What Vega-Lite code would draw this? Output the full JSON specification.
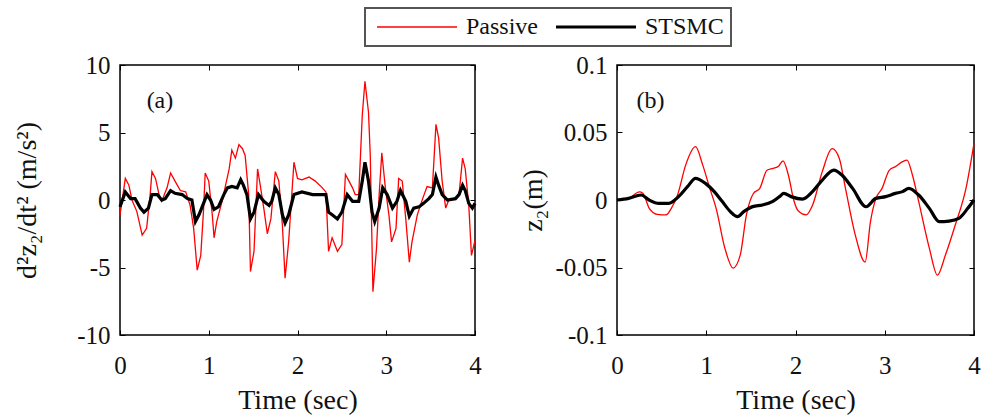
{
"$schema": "https://vega.github.io/schema/vega-lite/v6.json",
"background": "white",
"padding": {"left": 12, "top": 7, "right": 1, "bottom": 0},
"config": {
  "font": "Liberation Serif",
  "view": {"stroke": "black", "strokeWidth": 1.5},
  "axis": {"labelFont": "Liberation Serif", "titleFont": "Liberation Serif", "labelFontSize": 25, "titleFontSize": 28, "titleFontWeight": "normal", "grid": false, "domain": false, "tickColor": "black", "tickSize": -5, "labelColor": "#111", "titleColor": "#111", "labelPadding": 15},
  "legend": {"labelFont": "Liberation Serif", "strokeWidth": 2}
},
"datasets": {
 "accel": [
  {"t":0,"v":-1.1,"s":"Passive"},{"t":0.06,"v":1.6,"s":"Passive"},{"t":0.10,"v":1.1,"s":"Passive"},{"t":0.135,"v":0,"s":"Passive"},{"t":0.19,"v":-0.86,"s":"Passive"},{"t":0.25,"v":-2.6,"s":"Passive"},{"t":0.30,"v":-2.1,"s":"Passive"},{"t":0.34,"v":0.4,"s":"Passive"},{"t":0.36,"v":2.1,"s":"Passive"},{"t":0.40,"v":1.6,"s":"Passive"},{"t":0.44,"v":0.4,"s":"Passive"},{"t":0.47,"v":-0.1,"s":"Passive"},{"t":0.53,"v":0.9,"s":"Passive"},{"t":0.57,"v":2.0,"s":"Passive"},{"t":0.62,"v":1.4,"s":"Passive"},{"t":0.68,"v":0.7,"s":"Passive"},{"t":0.74,"v":0.6,"s":"Passive"},{"t":0.79,"v":-0.4,"s":"Passive"},{"t":0.83,"v":-2.1,"s":"Passive"},{"t":0.87,"v":-5.2,"s":"Passive"},{"t":0.91,"v":-4.1,"s":"Passive"},{"t":0.94,"v":-0.9,"s":"Passive"},{"t":0.96,"v":2.0,"s":"Passive"},{"t":1.00,"v":1.4,"s":"Passive"},{"t":1.04,"v":-1.1,"s":"Passive"},{"t":1.06,"v":-2.8,"s":"Passive"},{"t":1.09,"v":-1.6,"s":"Passive"},{"t":1.15,"v":-0.1,"s":"Passive"},{"t":1.19,"v":1.1,"s":"Passive"},{"t":1.23,"v":2.3,"s":"Passive"},{"t":1.26,"v":3.7,"s":"Passive"},{"t":1.30,"v":3.1,"s":"Passive"},{"t":1.34,"v":4.1,"s":"Passive"},{"t":1.38,"v":3.8,"s":"Passive"},{"t":1.41,"v":3.3,"s":"Passive"},{"t":1.45,"v":0.4,"s":"Passive"},{"t":1.47,"v":-5.3,"s":"Passive"},{"t":1.51,"v":-3.8,"s":"Passive"},{"t":1.55,"v":2.3,"s":"Passive"},{"t":1.58,"v":1.1,"s":"Passive"},{"t":1.62,"v":-0.6,"s":"Passive"},{"t":1.66,"v":-2.5,"s":"Passive"},{"t":1.70,"v":-1.4,"s":"Passive"},{"t":1.75,"v":2.1,"s":"Passive"},{"t":1.79,"v":1.4,"s":"Passive"},{"t":1.83,"v":-1.9,"s":"Passive"},{"t":1.86,"v":-5.8,"s":"Passive"},{"t":1.90,"v":-3.1,"s":"Passive"},{"t":1.96,"v":2.8,"s":"Passive"},{"t":2.00,"v":1.6,"s":"Passive"},{"t":2.05,"v":1.5,"s":"Passive"},{"t":2.13,"v":1.7,"s":"Passive"},{"t":2.20,"v":1.4,"s":"Passive"},{"t":2.28,"v":0.9,"s":"Passive"},{"t":2.32,"v":0.6,"s":"Passive"},{"t":2.35,"v":-3.8,"s":"Passive"},{"t":2.39,"v":-2.8,"s":"Passive"},{"t":2.45,"v":-3.8,"s":"Passive"},{"t":2.50,"v":-3.3,"s":"Passive"},{"t":2.54,"v":1.9,"s":"Passive"},{"t":2.58,"v":1.4,"s":"Passive"},{"t":2.62,"v":0.9,"s":"Passive"},{"t":2.65,"v":0.4,"s":"Passive"},{"t":2.69,"v":0.4,"s":"Passive"},{"t":2.73,"v":6.3,"s":"Passive"},{"t":2.76,"v":8.8,"s":"Passive"},{"t":2.80,"v":6.5,"s":"Passive"},{"t":2.82,"v":3.3,"s":"Passive"},{"t":2.85,"v":-6.8,"s":"Passive"},{"t":2.89,"v":-3.6,"s":"Passive"},{"t":2.92,"v":0.4,"s":"Passive"},{"t":2.95,"v":3.5,"s":"Passive"},{"t":2.99,"v":0.9,"s":"Passive"},{"t":3.03,"v":-1.1,"s":"Passive"},{"t":3.06,"v":-3.1,"s":"Passive"},{"t":3.11,"v":-2.1,"s":"Passive"},{"t":3.14,"v":1.6,"s":"Passive"},{"t":3.18,"v":1.4,"s":"Passive"},{"t":3.22,"v":-1.4,"s":"Passive"},{"t":3.26,"v":-4.6,"s":"Passive"},{"t":3.29,"v":-3.1,"s":"Passive"},{"t":3.35,"v":-1.1,"s":"Passive"},{"t":3.41,"v":0.1,"s":"Passive"},{"t":3.46,"v":1.0,"s":"Passive"},{"t":3.52,"v":0.9,"s":"Passive"},{"t":3.56,"v":5.6,"s":"Passive"},{"t":3.59,"v":4.6,"s":"Passive"},{"t":3.63,"v":1.4,"s":"Passive"},{"t":3.67,"v":-0.6,"s":"Passive"},{"t":3.71,"v":0.1,"s":"Passive"},{"t":3.78,"v":0.1,"s":"Passive"},{"t":3.82,"v":0.4,"s":"Passive"},{"t":3.86,"v":3.1,"s":"Passive"},{"t":3.89,"v":2.3,"s":"Passive"},{"t":3.93,"v":-0.4,"s":"Passive"},{"t":3.96,"v":-4.1,"s":"Passive"},{"t":4.00,"v":-3.0,"s":"Passive"},
  {"t":0,"v":-0.5,"s":"STSMC"},{"t":0.06,"v":0.6,"s":"STSMC"},{"t":0.12,"v":0.1,"s":"STSMC"},{"t":0.17,"v":0.1,"s":"STSMC"},{"t":0.23,"v":-0.6,"s":"STSMC"},{"t":0.27,"v":-0.9,"s":"STSMC"},{"t":0.32,"v":-0.6,"s":"STSMC"},{"t":0.36,"v":0.4,"s":"STSMC"},{"t":0.42,"v":0.4,"s":"STSMC"},{"t":0.47,"v":0,"s":"STSMC"},{"t":0.51,"v":0.1,"s":"STSMC"},{"t":0.57,"v":0.7,"s":"STSMC"},{"t":0.62,"v":0.5,"s":"STSMC"},{"t":0.70,"v":0.4,"s":"STSMC"},{"t":0.76,"v":0.1,"s":"STSMC"},{"t":0.81,"v":0,"s":"STSMC"},{"t":0.85,"v":-1.6,"s":"STSMC"},{"t":0.89,"v":-1.1,"s":"STSMC"},{"t":0.92,"v":-0.6,"s":"STSMC"},{"t":0.98,"v":0.4,"s":"STSMC"},{"t":1.02,"v":0,"s":"STSMC"},{"t":1.06,"v":-0.7,"s":"STSMC"},{"t":1.11,"v":-0.5,"s":"STSMC"},{"t":1.17,"v":0.4,"s":"STSMC"},{"t":1.21,"v":0.9,"s":"STSMC"},{"t":1.26,"v":1.0,"s":"STSMC"},{"t":1.32,"v":0.9,"s":"STSMC"},{"t":1.36,"v":1.5,"s":"STSMC"},{"t":1.39,"v":1.1,"s":"STSMC"},{"t":1.43,"v":0.4,"s":"STSMC"},{"t":1.47,"v":-1.4,"s":"STSMC"},{"t":1.51,"v":-0.9,"s":"STSMC"},{"t":1.56,"v":0.4,"s":"STSMC"},{"t":1.62,"v":-0.1,"s":"STSMC"},{"t":1.68,"v":-0.4,"s":"STSMC"},{"t":1.71,"v":-0.1,"s":"STSMC"},{"t":1.75,"v":0.9,"s":"STSMC"},{"t":1.79,"v":0.4,"s":"STSMC"},{"t":1.83,"v":-1.1,"s":"STSMC"},{"t":1.86,"v":-1.7,"s":"STSMC"},{"t":1.90,"v":-1.1,"s":"STSMC"},{"t":1.96,"v":0.4,"s":"STSMC"},{"t":2.05,"v":0.6,"s":"STSMC"},{"t":2.17,"v":0.4,"s":"STSMC"},{"t":2.32,"v":0.4,"s":"STSMC"},{"t":2.35,"v":-0.9,"s":"STSMC"},{"t":2.39,"v":-1.1,"s":"STSMC"},{"t":2.45,"v":-1.4,"s":"STSMC"},{"t":2.50,"v":-0.9,"s":"STSMC"},{"t":2.56,"v":0.4,"s":"STSMC"},{"t":2.62,"v":-0.1,"s":"STSMC"},{"t":2.69,"v":-0.1,"s":"STSMC"},{"t":2.73,"v":1.4,"s":"STSMC"},{"t":2.76,"v":2.8,"s":"STSMC"},{"t":2.80,"v":1.4,"s":"STSMC"},{"t":2.84,"v":-0.9,"s":"STSMC"},{"t":2.87,"v":-1.6,"s":"STSMC"},{"t":2.92,"v":-0.6,"s":"STSMC"},{"t":2.96,"v":0.9,"s":"STSMC"},{"t":3.01,"v":0.4,"s":"STSMC"},{"t":3.07,"v":-0.6,"s":"STSMC"},{"t":3.12,"v":-0.1,"s":"STSMC"},{"t":3.16,"v":0.7,"s":"STSMC"},{"t":3.22,"v":-0.1,"s":"STSMC"},{"t":3.26,"v":-1.2,"s":"STSMC"},{"t":3.31,"v":-0.6,"s":"STSMC"},{"t":3.37,"v":-0.5,"s":"STSMC"},{"t":3.42,"v":-0.25,"s":"STSMC"},{"t":3.48,"v":0.1,"s":"STSMC"},{"t":3.52,"v":0.4,"s":"STSMC"},{"t":3.56,"v":1.7,"s":"STSMC"},{"t":3.59,"v":1.1,"s":"STSMC"},{"t":3.63,"v":0.4,"s":"STSMC"},{"t":3.69,"v":0,"s":"STSMC"},{"t":3.78,"v":0.1,"s":"STSMC"},{"t":3.82,"v":0.4,"s":"STSMC"},{"t":3.86,"v":1.1,"s":"STSMC"},{"t":3.89,"v":0.7,"s":"STSMC"},{"t":3.93,"v":-0.25,"s":"STSMC"},{"t":3.97,"v":-0.6,"s":"STSMC"},{"t":4.00,"v":-0.25,"s":"STSMC"}
 ],
 "disp": [
  {"t":0,"v":0,"s":"Passive"},{"t":0.13,"v":0.001,"s":"Passive"},{"t":0.25,"v":0.006,"s":"Passive"},{"t":0.29,"v":0.005,"s":"Passive"},{"t":0.36,"v":-0.006,"s":"Passive"},{"t":0.45,"v":-0.0106,"s":"Passive"},{"t":0.55,"v":-0.011,"s":"Passive"},{"t":0.61,"v":-0.006,"s":"Passive"},{"t":0.68,"v":0.004,"s":"Passive"},{"t":0.77,"v":0.026,"s":"Passive"},{"t":0.88,"v":0.0395,"s":"Passive"},{"t":0.96,"v":0.026,"s":"Passive"},{"t":1.04,"v":0.0086,"s":"Passive"},{"t":1.11,"v":-0.006,"s":"Passive"},{"t":1.21,"v":-0.036,"s":"Passive"},{"t":1.30,"v":-0.0504,"s":"Passive"},{"t":1.38,"v":-0.041,"s":"Passive"},{"t":1.45,"v":-0.011,"s":"Passive"},{"t":1.53,"v":0.005,"s":"Passive"},{"t":1.60,"v":0.0086,"s":"Passive"},{"t":1.68,"v":0.022,"s":"Passive"},{"t":1.75,"v":0.0235,"s":"Passive"},{"t":1.81,"v":0.025,"s":"Passive"},{"t":1.86,"v":0.029,"s":"Passive"},{"t":1.92,"v":0.0185,"s":"Passive"},{"t":1.98,"v":0.0,"s":"Passive"},{"t":2.03,"v":-0.008,"s":"Passive"},{"t":2.12,"v":-0.011,"s":"Passive"},{"t":2.19,"v":-0.004,"s":"Passive"},{"t":2.30,"v":0.021,"s":"Passive"},{"t":2.41,"v":0.038,"s":"Passive"},{"t":2.49,"v":0.031,"s":"Passive"},{"t":2.56,"v":0.0086,"s":"Passive"},{"t":2.67,"v":-0.026,"s":"Passive"},{"t":2.78,"v":-0.046,"s":"Passive"},{"t":2.84,"v":-0.016,"s":"Passive"},{"t":2.90,"v":0.001,"s":"Passive"},{"t":2.97,"v":0.0086,"s":"Passive"},{"t":3.05,"v":0.022,"s":"Passive"},{"t":3.12,"v":0.0247,"s":"Passive"},{"t":3.20,"v":0.0284,"s":"Passive"},{"t":3.25,"v":0.0296,"s":"Passive"},{"t":3.31,"v":0.0185,"s":"Passive"},{"t":3.38,"v":-0.001,"s":"Passive"},{"t":3.50,"v":-0.0358,"s":"Passive"},{"t":3.59,"v":-0.0556,"s":"Passive"},{"t":3.68,"v":-0.0407,"s":"Passive"},{"t":3.79,"v":-0.0185,"s":"Passive"},{"t":3.91,"v":0.0086,"s":"Passive"},{"t":4.00,"v":0.042,"s":"Passive"},
  {"t":0,"v":0,"s":"STSMC"},{"t":0.13,"v":0.0012,"s":"STSMC"},{"t":0.27,"v":0.0037,"s":"STSMC"},{"t":0.36,"v":0,"s":"STSMC"},{"t":0.47,"v":-0.0025,"s":"STSMC"},{"t":0.58,"v":-0.0025,"s":"STSMC"},{"t":0.69,"v":0.0025,"s":"STSMC"},{"t":0.79,"v":0.0099,"s":"STSMC"},{"t":0.88,"v":0.016,"s":"STSMC"},{"t":0.99,"v":0.0123,"s":"STSMC"},{"t":1.09,"v":0.0062,"s":"STSMC"},{"t":1.18,"v":-0.0012,"s":"STSMC"},{"t":1.27,"v":-0.0086,"s":"STSMC"},{"t":1.35,"v":-0.0123,"s":"STSMC"},{"t":1.42,"v":-0.0086,"s":"STSMC"},{"t":1.52,"v":-0.0049,"s":"STSMC"},{"t":1.63,"v":-0.0037,"s":"STSMC"},{"t":1.74,"v":-0.0012,"s":"STSMC"},{"t":1.82,"v":0.0025,"s":"STSMC"},{"t":1.87,"v":0.0049,"s":"STSMC"},{"t":1.95,"v":0.0025,"s":"STSMC"},{"t":2.08,"v":0.0007,"s":"STSMC"},{"t":2.19,"v":0.0062,"s":"STSMC"},{"t":2.30,"v":0.0148,"s":"STSMC"},{"t":2.43,"v":0.0222,"s":"STSMC"},{"t":2.52,"v":0.0185,"s":"STSMC"},{"t":2.64,"v":0.0086,"s":"STSMC"},{"t":2.79,"v":-0.005,"s":"STSMC"},{"t":2.90,"v":0.0012,"s":"STSMC"},{"t":3.01,"v":0.0025,"s":"STSMC"},{"t":3.12,"v":0.0049,"s":"STSMC"},{"t":3.20,"v":0.0062,"s":"STSMC"},{"t":3.27,"v":0.0086,"s":"STSMC"},{"t":3.38,"v":0.0037,"s":"STSMC"},{"t":3.50,"v":-0.0062,"s":"STSMC"},{"t":3.61,"v":-0.016,"s":"STSMC"},{"t":3.72,"v":-0.0156,"s":"STSMC"},{"t":3.83,"v":-0.0136,"s":"STSMC"},{"t":3.93,"v":-0.0062,"s":"STSMC"},{"t":4.00,"v":0.0,"s":"STSMC"}
 ]
},
"spacing": 36,
"hconcat": [
 {
  "width": 355, "height": 270,
  "layer": [
   {"data": {"name": "accel"},
    "mark": {"type": "line", "interpolate": "linear"},
    "encoding": {
     "x": {"field": "t", "type": "quantitative", "scale": {"domain": [0, 4], "nice": false, "zero": false}, "axis": {"values": [0,1,2,3,4], "title": "Time (sec)", "orient": "bottom", "labelFont": "Liberation Serif", "labelFlush": false, "labelPadding": 23, "titlePadding": 8}},
     "y": {"field": "v", "type": "quantitative", "scale": {"domain": [-10, 10], "nice": false}, "axis": {"values": [-10,-5,0,5,10], "labelFont": "Liberation Serif", "labelExpr": "toString(datum.value)", "title": "d²z₂/dt² (m/s²)", "titlePadding": 35}},
     "color": {"field": "s", "type": "nominal", "scale": {"domain": ["Passive", "STSMC"], "range": ["#ff0000", "#000000"]},
       "legend": {"orient": "none", "legendX": 245, "legendY": -57, "direction": "horizontal", "title": null, "symbolType": "M-1,0H7", "symbolSize": 400, "symbolOffset": 3, "labelFont": "Liberation Serif", "labelFontSize": 24, "labelColor": "#111", "strokeColor": "#555", "fillColor": "white", "padding": 7, "columnPadding": 11, "labelOffset": 67}},
     "strokeWidth": {"field": "s", "type": "nominal", "scale": {"domain": ["Passive", "STSMC"], "range": [1.3, 3.2]},
       "legend": {"orient": "none", "legendX": 245, "legendY": -57, "direction": "horizontal", "title": null, "symbolType": "M-1,0H7", "symbolSize": 400, "symbolOffset": 3, "labelFont": "Liberation Serif", "labelFontSize": 24, "labelColor": "#111", "strokeColor": "#555", "fillColor": "white", "padding": 7, "columnPadding": 11, "labelOffset": 67}}
    }},
   {"data": {"name": "accel"},
    "mark": {"type": "line", "opacity": 0},
    "encoding": {
     "x": {"field": "t", "type": "quantitative", "axis": {"orient": "top", "labels": false, "title": null, "values": [0,1,2,3,4]}},
     "y": {"field": "v", "type": "quantitative", "axis": {"orient": "right", "labels": false, "title": null, "values": [-10,-5,0,5,10]}}
    }},
   {"data": {"values": [{"label": "(a)"}]},
    "mark": {"type": "text", "fontSize": 24, "font": "Liberation Serif", "color": "#111"},
    "encoding": {"text": {"field": "label"}, "x": {"datum": 0.45, "type": "quantitative", "axis": null}, "y": {"datum": 7.3, "type": "quantitative", "axis": null}}}
  ],
  "resolve": {"axis": {"x": "independent", "y": "independent"}}
 },
 {
  "width": 357, "height": 270,
  "layer": [
   {"data": {"name": "disp"},
    "mark": {"type": "line", "interpolate": "monotone"},
    "encoding": {
     "x": {"field": "t", "type": "quantitative", "scale": {"domain": [0, 4], "nice": false, "zero": false}, "axis": {"values": [0,1,2,3,4], "title": "Time (sec)", "orient": "bottom", "labelFont": "Liberation Serif", "labelFlush": false, "labelPadding": 23, "titlePadding": 8}},
     "y": {"field": "v", "type": "quantitative", "scale": {"domain": [-0.1, 0.1], "nice": false}, "axis": {"values": [-0.1,-0.05,0,0.05,0.1], "labelFont": "Liberation Serif", "labelExpr": "toString(datum.value)", "title": "z₂(m)", "titlePadding": 7}},
     "color": {"field": "s", "type": "nominal", "scale": {"domain": ["Passive", "STSMC"], "range": ["#ff0000", "#000000"]}},
     "strokeWidth": {"field": "s", "type": "nominal", "scale": {"domain": ["Passive", "STSMC"], "range": [1.3, 3.2]}}
    }},
   {"data": {"name": "disp"},
    "mark": {"type": "line", "opacity": 0},
    "encoding": {
     "x": {"field": "t", "type": "quantitative", "axis": {"orient": "top", "labels": false, "title": null, "values": [0,1,2,3,4]}},
     "y": {"field": "v", "type": "quantitative", "axis": {"orient": "right", "labels": false, "title": null, "values": [-0.1,-0.05,0,0.05,0.1]}}
    }},
   {"data": {"values": [{"label": "(b)"}]},
    "mark": {"type": "text", "fontSize": 24, "font": "Liberation Serif", "color": "#111"},
    "encoding": {"text": {"field": "label"}, "x": {"datum": 0.375, "type": "quantitative", "axis": null}, "y": {"datum": 0.073, "type": "quantitative", "axis": null}}}
  ],
  "resolve": {"axis": {"x": "independent", "y": "independent"}}
 }
]
}
